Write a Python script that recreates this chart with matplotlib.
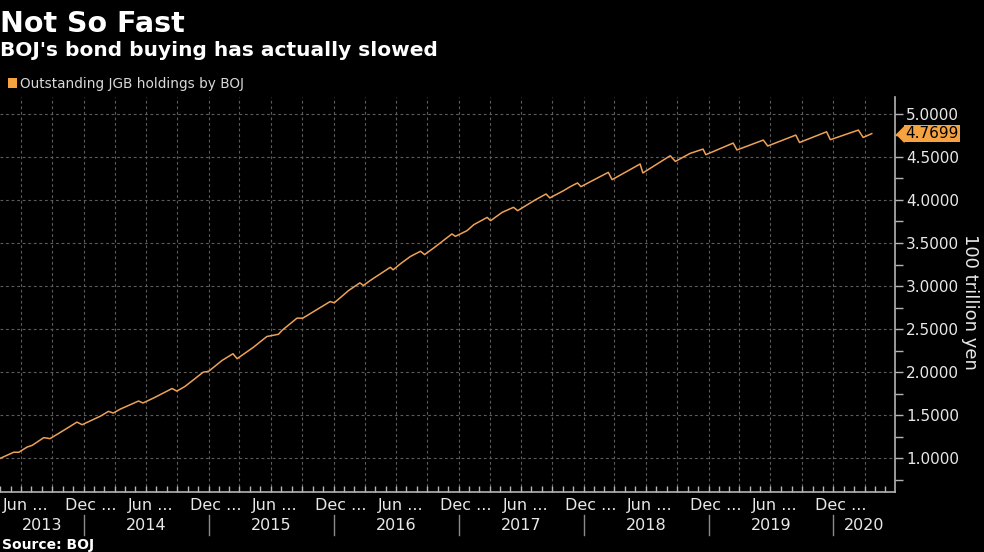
import matplotlib
matplotlib.use("Agg")
import matplotlib.pyplot as plt
import matplotlib.dates as mdates
import matplotlib.transforms as mtransforms
from matplotlib.ticker import MultipleLocator, FormatStrFormatter, NullFormatter
from matplotlib.patches import Rectangle
import pandas as pd

# BOJ outstanding JGB holdings, 100 trillion yen
dates = [
    "2013-05-02", "2013-06-10", "2013-06-25", "2013-07-19", "2013-08-03", "2013-09-06",
    "2013-09-24", "2013-10-20", "2013-12-12", "2013-12-27", "2014-02-19", "2014-03-14",
    "2014-03-28", "2014-04-17", "2014-06-10", "2014-06-23", "2014-07-24", "2014-09-16",
    "2014-09-30", "2014-10-24", "2014-12-16", "2015-01-01", "2015-02-09", "2015-03-13",
    "2015-03-25", "2015-05-12", "2015-06-20", "2015-07-24", "2015-08-03", "2015-09-16",
    "2015-10-03", "2015-12-22", "2016-01-03", "2016-02-14", "2016-03-18", "2016-03-28",
    "2016-04-17", "2016-06-15", "2016-06-23", "2016-07-14", "2016-08-12", "2016-09-11",
    "2016-09-23", "2016-10-20", "2016-12-12", "2016-12-22", "2017-01-25", "2017-02-14",
    "2017-03-25", "2017-04-04", "2017-05-08", "2017-06-10", "2017-06-22", "2017-08-12",
    "2017-09-13", "2017-09-24", "2017-11-03", "2017-11-23", "2017-12-14", "2017-12-24",
    "2018-03-14", "2018-03-25", "2018-06-15", "2018-06-23", "2018-09-11", "2018-09-26",
    "2018-11-08", "2018-12-16", "2018-12-24", "2019-03-14", "2019-03-25", "2019-06-10",
    "2019-06-23", "2019-09-13", "2019-09-24", "2019-12-12", "2019-12-23", "2020-03-14",
    "2020-03-28", "2020-04-22",
]
holdings = [
    1.000, 1.070, 1.070, 1.130, 1.150, 1.240,
    1.228, 1.290, 1.420, 1.390, 1.490, 1.545,
    1.525, 1.570, 1.665, 1.642, 1.700, 1.810,
    1.780, 1.835, 2.000, 2.010, 2.136, 2.214,
    2.156, 2.290, 2.414, 2.440, 2.484, 2.627,
    2.627, 2.820, 2.805, 2.948, 3.037, 3.006,
    3.064, 3.218, 3.188, 3.257, 3.342, 3.404,
    3.365, 3.443, 3.605, 3.577, 3.643, 3.713,
    3.797, 3.759, 3.856, 3.914, 3.875, 3.999,
    4.069, 4.023, 4.107, 4.154, 4.197, 4.154,
    4.320, 4.235, 4.417, 4.313, 4.513, 4.447,
    4.540, 4.590, 4.525, 4.660, 4.580, 4.695,
    4.626, 4.753, 4.667, 4.791, 4.699, 4.811,
    4.725, 4.7699,
]
last_value = 4.7699
years = [2013, 2014, 2015, 2016, 2017, 2018, 2019, 2020]
half_year_labels = {6: "Jun ...", 12: "Dec ..."}

orange = "#f5a341"
line_col = "#eda257"
grid_col = "#5c5c5c"
axis_col = "#b4b4b4"
txt = "#e8e8e8"

W, H = 984, 552
fig = plt.figure(figsize=(W / 100, H / 100), dpi=100, facecolor="black")
ax = fig.add_axes([0, 1 - 492.3 / H, 895 / W, (492.3 - 97) / H])
ax.set_facecolor("black")

x = mdates.date2num(pd.to_datetime(dates).to_pydatetime())
ax.plot(x, holdings, color=line_col, lw=1.1)
ax.xaxis_date()

def dnum(y, m, d=1):
    return mdates.date2num(pd.Timestamp(year=y, month=m, day=d).to_pydatetime())

x0, x1 = dnum(2013, 5, 1), dnum(2020, 6, 29)
ax.set_xlim(x0, x1)
ax.set_ylim(0.605, 5.195)

# y axis on the right
ax.yaxis.tick_right()
ax.yaxis.set_major_locator(MultipleLocator(0.5))
ax.yaxis.set_minor_locator(MultipleLocator(0.25))
ax.yaxis.set_major_formatter(FormatStrFormatter("%.4f"))
ax.tick_params(axis="y", which="both", direction="out", length=6, width=1,
               color=axis_col, labelcolor=txt, labelsize=11, pad=2)

# x axis: quarterly grid, monthly small ticks, labels drawn by hand
ax.xaxis.set_major_locator(mdates.MonthLocator(bymonth=[1, 4, 7, 10]))
ax.xaxis.set_minor_locator(mdates.MonthLocator())
ax.xaxis.set_major_formatter(NullFormatter())
ax.tick_params(axis="x", which="both", direction="in", length=4, width=1, color=axis_col)

ax.grid(which="major", color=grid_col, lw=0.8, ls=(0, (2.5, 2.5)))

for s in ["left", "top"]:
    ax.spines[s].set_visible(False)
for s in ["right", "bottom"]:
    ax.spines[s].set_color(axis_col)
    ax.spines[s].set_linewidth(1.2)

xt = ax.get_xaxis_transform()
for y in years:
    for m, lab in half_year_labels.items():
        d = dnum(y, m)
        # only where the label fits before the axis end
        if x0 <= d <= x1 - 60:
            ax.annotate(lab, xy=(d, 0), xycoords=xt, xytext=(-8, -13),
                        textcoords="offset pixels", ha="left", va="center",
                        color=txt, fontsize=11.5)
    start = max(dnum(y, 1), x0)
    end = min(dnum(y + 1, 1), x1)
    ax.annotate(str(y), xy=((start + end) / 2, 0), xycoords=xt, xytext=(0, -33),
                textcoords="offset pixels", ha="center", va="center",
                color=txt, fontsize=11.5)
    if y > years[0]:
        sep = dnum(y, 1)
        ax.plot([sep, sep], [-23 / 395.3, -43 / 395.3], transform=xt,
                color="#8a8a8a", lw=1, clip_on=False)

# last value tag
yt = ax.get_yaxis_transform()
ax.annotate(f"{last_value:.4f}", xy=(1, last_value), xycoords=yt, xytext=(10, 0),
            textcoords="offset pixels", ha="left", va="center", color="black",
            fontsize=11, bbox=dict(boxstyle="square,pad=0.08", fc=orange, ec="none"))
tri = mtransforms.offset_copy(yt, fig=fig, x=9, y=0, units="dots")
ax.plot([1], [last_value], marker=[(-1, 0), (0, 1), (0, -1)], ms=12.5,
        color=orange, transform=tri, clip_on=False, mec="none")

# titles, legend, source, unit
def fx(px):
    return px / W

def fy(py):
    return 1 - py / H

fig.text(fx(0), fy(32), "Not So Fast", color="white", fontsize=20.5,
         fontweight="bold", va="baseline", ha="left")
fig.text(fx(0), fy(56), "BOJ's bond buying has actually slowed", color="white",
         fontsize=14.5, fontweight="bold", va="baseline", ha="left")
fig.patches.append(Rectangle((fx(8), fy(88)), fx(9), 10 / H, transform=fig.transFigure,
                             fc=orange, ec="none"))
fig.text(fx(20), fy(88), "Outstanding JGB holdings by BOJ", color="#d9d9d9",
         fontsize=9.8, va="baseline", ha="left")
fig.text(fx(2), fy(549), "Source: BOJ", color="white", fontsize=10,
         fontweight="bold", va="baseline", ha="left")
fig.text(fx(970), fy(302), "100 trillion yen", color=txt, fontsize=13,
         rotation=270, va="center", ha="center")

fig.savefig("out.png", dpi=100, facecolor="black")
